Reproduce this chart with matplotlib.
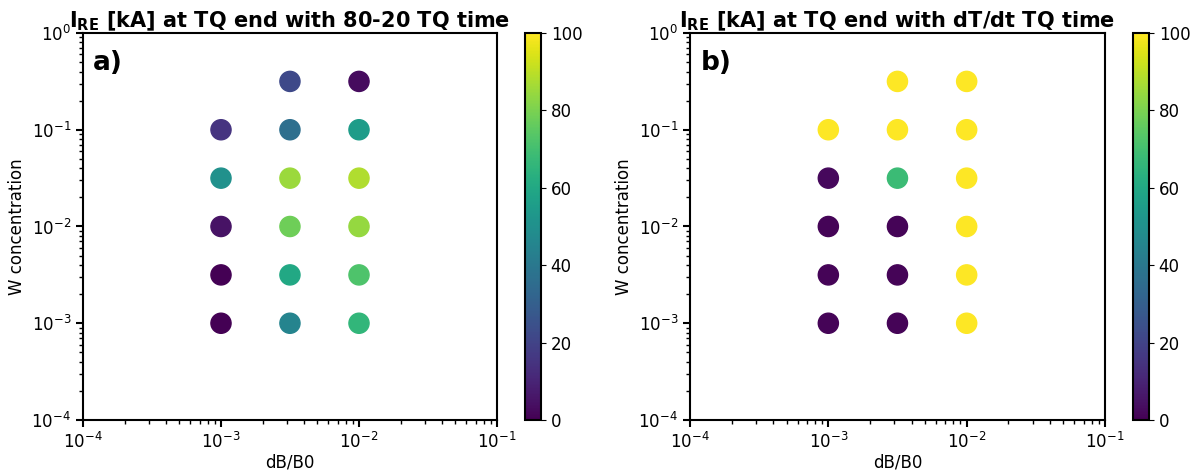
import numpy as np
import matplotlib.pyplot as plt

# grid of dB/B0 and W concentration values
dB = [1e-3, 1e-3, 1e-3, 1e-3, 1e-3,
      3.16e-3, 3.16e-3, 3.16e-3, 3.16e-3, 3.16e-3, 3.16e-3,
      1e-2, 1e-2, 1e-2, 1e-2, 1e-2, 1e-2]
W = [1e-1, 3.16e-2, 1e-2, 3.16e-3, 1e-3,
     3.16e-1, 1e-1, 3.16e-2, 1e-2, 3.16e-3, 1e-3,
     3.16e-1, 1e-1, 3.16e-2, 1e-2, 3.16e-3, 1e-3]

# I_RE [kA] for the two TQ time definitions
I_RE_8020 = [15, 50, 5, 0, 0,
             22, 36, 85, 78, 60, 45,
             3, 55, 88, 84, 72, 66]
I_RE_dTdt = [100, 2, 1, 1, 1,
             100, 100, 68, 1, 1, 1,
             100, 100, 100, 100, 100, 100]

titles = [r"$\mathbf{I_{RE}}$ [kA] at TQ end with 80-20 TQ time",
          r"$\mathbf{I_{RE}}$ [kA] at TQ end with dT/dt TQ time"]
panel_labels = ["a)", "b)"]

plt.rcParams["font.size"] = 12
plt.rcParams["axes.linewidth"] = 1.5

fig = plt.figure(figsize=(12.04, 4.72), dpi=100)
ax1 = fig.add_axes([83/1204, 52/472, 414/1204, 387/472])
cax1 = fig.add_axes([525/1204, 52/472, 16/1204, 387/472])
ax2 = fig.add_axes([690/1204, 52/472, 415/1204, 387/472])
cax2 = fig.add_axes([1133/1204, 52/472, 16/1204, 387/472])

for ax, cax, vals, title, lab in zip([ax1, ax2], [cax1, cax2],
                                     [I_RE_8020, I_RE_dTdt], titles, panel_labels):
    sc = ax.scatter(dB, W, c=vals, cmap="viridis", vmin=0, vmax=100, s=210)
    ax.set_xscale("log")
    ax.set_yscale("log")
    ax.set_xlim(1e-4, 1e-1)
    ax.set_ylim(1e-4, 1)
    ax.set_xlabel("dB/B0", labelpad=1)
    ax.set_ylabel("W concentration")
    ax.set_title(title, fontweight="bold", fontsize=15, pad=2)
    ax.text(0.025, 0.955, lab, transform=ax.transAxes, fontsize=19,
            fontweight="bold", va="top", ha="left")
    ax.tick_params(which="major", length=5, width=1.5)
    ax.tick_params(which="minor", length=3, width=1)
    cb = fig.colorbar(sc, cax=cax)
    cb.set_ticks([0, 20, 40, 60, 80, 100])

plt.savefig("out.png", dpi=100)
